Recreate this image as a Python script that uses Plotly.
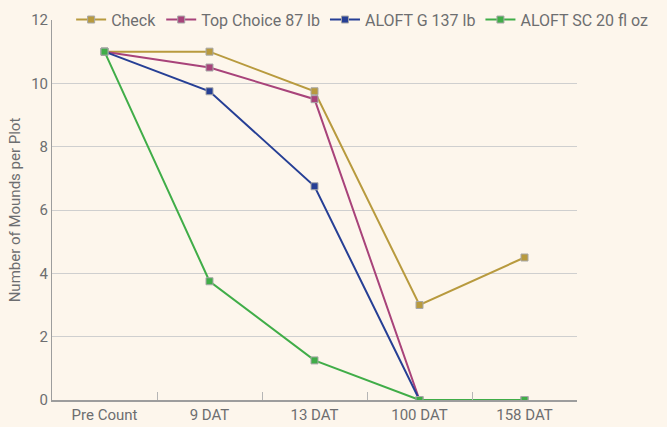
import plotly.graph_objects as go

categories = ["Pre Count", "9 DAT", "13 DAT", "100 DAT", "158 DAT"]
check = [11, 11, 9.75, 3, 4.5]
top_choice = [11, 10.5, 9.5, 0, 0]
aloft_g = [11, 9.75, 6.75, 0, 0]
aloft_sc = [11, 3.75, 1.25, 0, 0]

series = [
    ("Check", check, "#b89a3e"),
    ("Top Choice 87 lb", top_choice, "#a8437a"),
    ("ALOFT G 137 lb", aloft_g, "#263f95"),
    ("ALOFT SC 20 fl oz", aloft_sc, "#40ad48"),
]

FONT = "Roboto, sans-serif"
TXT = "#6d6e70"
fig = go.Figure()
for name, vals, col in series:
    fig.add_trace(go.Scatter(
        x=categories, y=vals, name=name, mode="lines+markers",
        line=dict(color=col, width=2),
        marker=dict(symbol="square", size=7, color=col, line=dict(color="#a8a8a8", width=1)),
    ))

fig.update_layout(
    width=667, height=427,
    paper_bgcolor="#fdf6ec", plot_bgcolor="#fdf6ec",
    margin=dict(l=52, r=90, t=20, b=27, autoexpand=False),
    font=dict(family=FONT, size=15, color=TXT),
    legend=dict(orientation="h", x=1.145, y=1.001, xanchor="right", yanchor="middle",
                bgcolor="rgba(0,0,0,0)", font=dict(size=16, color=TXT),
                tracegroupgap=0),
    showlegend=True,
)
fig.update_xaxes(
    type="category", showgrid=False, showline=True, linecolor="#9d9d9d", linewidth=2,
    ticks="inside", tickson="boundaries", ticklen=8, tickcolor="#b5b5b5",
    tickfont=dict(size=15, color=TXT), range=[-0.5, 4.5],
)
fig.update_yaxes(
    range=[0, 12], tickvals=[0, 2, 4, 6, 8, 10, 12], showgrid=False,
    minor=dict(tickvals=[2, 4, 6, 8, 10], showgrid=True, gridcolor="#cfcfcf", gridwidth=1, ticks=""),
    showline=True, linecolor="#9d9d9d", linewidth=1, zeroline=False,
    ticks="", tickfont=dict(size=15, color=TXT),
    title=dict(text="Number of Mounds per Plot", font=dict(size=15, color=TXT), standoff=6),
)
fig.write_html("out.html", config={"displayModeBar": False},
               post_script="document.body.style.margin='0';document.body.style.background='#fdf6ec';")
